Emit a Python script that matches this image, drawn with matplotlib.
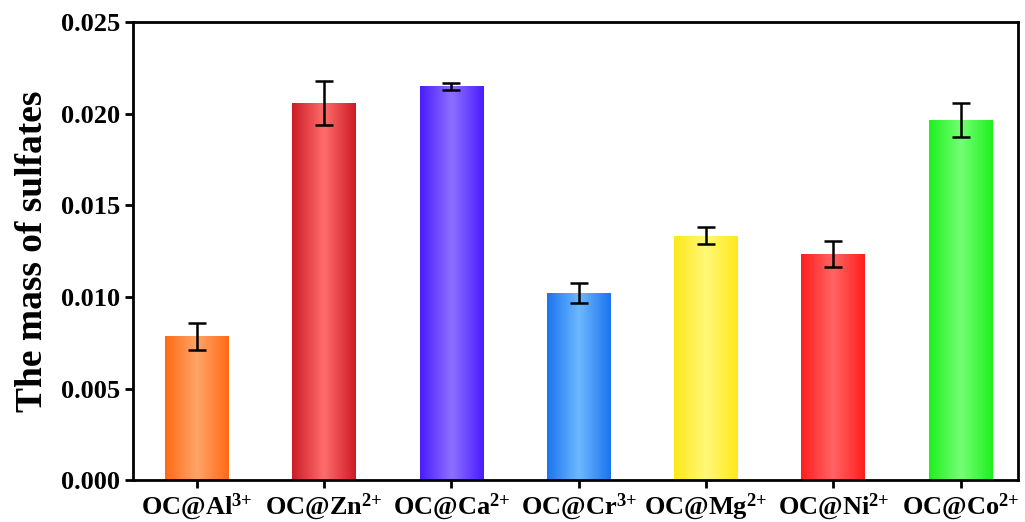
import matplotlib.pyplot as plt
import matplotlib
import numpy as np
from matplotlib.colors import LinearSegmentedColormap

matplotlib.rcParams['font.family'] = 'Liberation Serif'
matplotlib.rcParams['font.weight'] = 'bold'
matplotlib.rcParams['mathtext.fontset'] = 'custom'
matplotlib.rcParams['mathtext.rm'] = 'Liberation Serif:bold'
matplotlib.rcParams['mathtext.bf'] = 'Liberation Serif:bold'
matplotlib.rcParams['mathtext.it'] = 'Liberation Serif:bold'

# data
ions = ['Al', 'Zn', 'Ca', 'Cr', 'Mg', 'Ni', 'Co']
charges = ['3', '2', '2', '3', '2', '2', '2']
labels = ['OC@' + m + '$^{' + q + '{+}}$' for m, q in zip(ions, charges)]
values = [0.00786, 0.02058, 0.02148, 0.01020, 0.01333, 0.01234, 0.01966]
errors = [0.00074, 0.00120, 0.00020, 0.00055, 0.00046, 0.00070, 0.00093]
edge_colors = ['#FF6A14', '#CC1C26', '#4A1CFF', '#1C74EE', '#FFE81A', '#FF1E1E', '#1EF01E']
mid_colors = ['#FFA468', '#FF6C6C', '#8C70FF', '#6CB8FF', '#FFF878', '#FF6464', '#74FF74']

fig, ax = plt.subplots(figsize=(10.25, 5.22), dpi=100)
fig.subplots_adjust(left=0.13, right=0.993, top=0.958, bottom=0.08)

x = np.arange(len(values))
bars = ax.bar(x, values, width=0.5, color='none', edgecolor='none', zorder=2)

# gradient fill, dark edges, light middle
grad = 1 - np.abs(np.linspace(-1, 1, 256))
grad = grad.reshape(1, -1)
for b, c1, c2 in zip(bars, edge_colors, mid_colors):
    cmap = LinearSegmentedColormap.from_list('g', [c1, c2])
    x0, w, h = b.get_x(), b.get_width(), b.get_height()
    im = ax.imshow(grad, cmap=cmap, aspect='auto', extent=[x0, x0 + w, 0, h],
                   zorder=2, interpolation='bilinear')
    im.set_clip_path(b)

ax.errorbar(x, values, yerr=errors, fmt='none', ecolor='black', elinewidth=1.8,
            capsize=6.5, capthick=1.8, zorder=3)

ax.set_xlim(-0.5, 6.45)
ax.set_ylim(0, 0.025)
ax.set_yticks([0.000, 0.005, 0.010, 0.015, 0.020, 0.025])
ax.set_yticklabels(['0.000', '0.005', '0.010', '0.015', '0.020', '0.025'])
ax.set_xticks(x)
ax.set_xticklabels(labels)
ax.tick_params(axis='both', direction='out', length=6, width=2, labelsize=19)
ax.tick_params(axis='x', pad=2)
for s in ax.spines.values():
    s.set_linewidth(2)
ax.set_ylabel('The mass of sulfates', fontsize=27, fontweight='bold', labelpad=8)

fig.savefig('out.png', dpi=100)
